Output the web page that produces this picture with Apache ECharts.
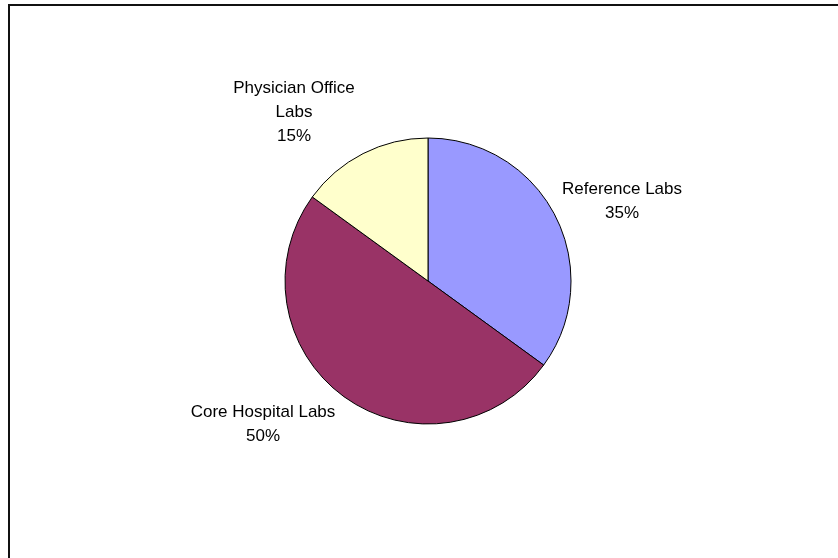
<!DOCTYPE html>
<html>
<head>
<meta charset="utf-8">
<script src="https://cdn.jsdelivr.net/npm/echarts@6/dist/echarts.min.js"></script>
<style>
html,body{margin:0;padding:0;background:#fff;}
#chart{width:838px;height:558px;}
</style>
</head>
<body>
<div id="chart"></div>
<script>
const categories = ['Reference Labs', 'Core Hospital Labs', 'Physician Office Labs'];
const labelTexts = ['Reference Labs', 'Core Hospital Labs', 'Physician Office\nLabs'];
const values = [35, 50, 15];
const colors = ['#9999FF', '#993366', '#FFFFCC'];

const labelPos = [[622, 201], [263, 424], [294, 112]];

const chart = echarts.init(document.getElementById('chart'), null, {renderer: 'canvas'});
chart.setOption({
  animation: false,
  backgroundColor: '#ffffff',
  graphic: [{
    type: 'rect',
    shape: {x: 9, y: 5, width: 900, height: 700},
    style: {fill: 'none', stroke: '#111', lineWidth: 2},
    silent: true
  }],
  series: [{
    type: 'pie',
    center: [428, 281],
    radius: 143,
    startAngle: 90,
    clockwise: true,
    avoidLabelOverlap: false,
    data: categories.map((c, i) => ({
      name: c,
      value: values[i],
      itemStyle: {color: colors[i]},
      label: {formatter: labelTexts[i] + '\n{d}%'}
    })),
    itemStyle: {borderColor: '#000', borderWidth: 1},
    label: {
      show: true,
      position: 'outside',
      fontFamily: 'Liberation Sans, Arial, sans-serif',
      fontSize: 17,
      lineHeight: 24,
      color: '#000',
      align: 'center'
    },
    labelLine: {show: false},
    labelLayout: function (p) {
      const pos = labelPos[p.dataIndex];
      return {x: pos[0], y: pos[1], align: 'center', verticalAlign: 'middle'};
    },
    emphasis: {disabled: true}
  }]
});
</script>
</body>
</html>
